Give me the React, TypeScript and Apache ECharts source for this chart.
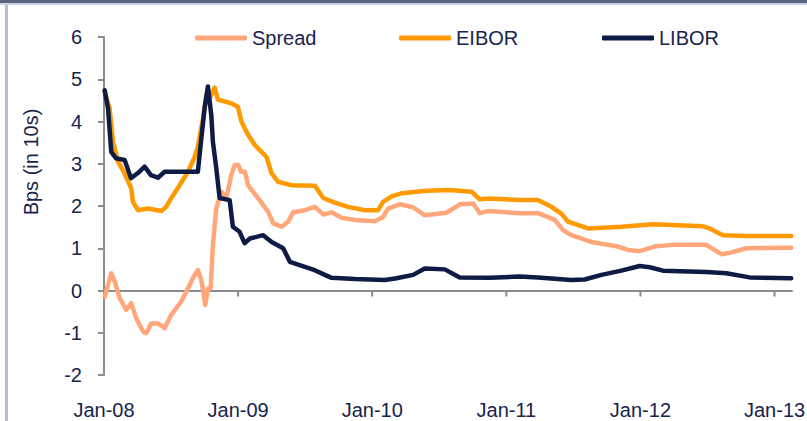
import React, { useEffect, useRef } from "react";
import * as echarts from "echarts";

// Time expressed in decimal years, values in Bps (in 10s)
const spreadTimes = [2008.005, 2008.03, 2008.054, 2008.08, 2008.117, 2008.166, 2008.203, 2008.241, 2008.291, 2008.315, 2008.352, 2008.402, 2008.452, 2008.501, 2008.576, 2008.626, 2008.676, 2008.7, 2008.725, 2008.745, 2008.755, 2008.775, 2008.795, 2008.812, 2008.837, 2008.874, 2008.911, 2008.949, 2008.974, 2009.001, 2009.023, 2009.051, 2009.075, 2009.15, 2009.224, 2009.262, 2009.324, 2009.373, 2009.411, 2009.498, 2009.572, 2009.635, 2009.697, 2009.771, 2009.87, 2010.019, 2010.081, 2010.118, 2010.206, 2010.305, 2010.392, 2010.554, 2010.653, 2010.752, 2010.802, 2010.864, 2011.1, 2011.236, 2011.361, 2011.423, 2011.485, 2011.634, 2011.832, 2011.907, 2011.994, 2012.118, 2012.242, 2012.491, 2012.603, 2012.665, 2012.789, 2013.124];
const spreadValues = [-0.15, 0.13, 0.41, 0.21, -0.18, -0.46, -0.3, -0.66, -0.97, -1.01, -0.78, -0.78, -0.89, -0.58, -0.26, 0.05, 0.37, 0.48, 0.25, -0.11, -0.34, 0.05, 0.05, 1.08, 1.94, 2.34, 2.18, 2.73, 2.97, 2.97, 2.81, 2.81, 2.49, 2.18, 1.86, 1.59, 1.51, 1.63, 1.85, 1.9, 1.98, 1.8, 1.85, 1.72, 1.67, 1.64, 1.74, 1.94, 2.04, 1.97, 1.78, 1.84, 2.04, 2.06, 1.83, 1.88, 1.83, 1.83, 1.67, 1.43, 1.31, 1.15, 1.04, 0.96, 0.93, 1.05, 1.08, 1.08, 0.86, 0.89, 1.0, 1.01];

const eiborTimes = [2008.005, 2008.042, 2008.067, 2008.104, 2008.154, 2008.203, 2008.216, 2008.253, 2008.328, 2008.427, 2008.464, 2008.501, 2008.564, 2008.626, 2008.676, 2008.7, 2008.738, 2008.762, 2008.788, 2008.825, 2008.849, 2008.949, 2008.998, 2009.026, 2009.075, 2009.125, 2009.212, 2009.25, 2009.299, 2009.399, 2009.572, 2009.635, 2009.721, 2009.82, 2009.945, 2010.044, 2010.081, 2010.144, 2010.218, 2010.405, 2010.578, 2010.74, 2010.802, 2010.876, 2011.1, 2011.236, 2011.336, 2011.41, 2011.46, 2011.609, 2011.858, 2012.093, 2012.466, 2012.516, 2012.615, 2012.789, 2013.124];
const eiborValues = [4.7, 4.31, 3.52, 3.05, 2.77, 2.42, 2.1, 1.9, 1.94, 1.88, 1.98, 2.18, 2.49, 2.81, 3.16, 3.4, 4.07, 4.62, 4.55, 4.8, 4.52, 4.43, 4.35, 3.99, 3.68, 3.44, 3.16, 2.77, 2.57, 2.49, 2.48, 2.19, 2.08, 1.98, 1.9, 1.9, 2.1, 2.23, 2.3, 2.36, 2.38, 2.34, 2.16, 2.18, 2.14, 2.14, 1.98, 1.82, 1.63, 1.47, 1.51, 1.57, 1.52, 1.47, 1.31, 1.29, 1.29];

const liborTimes = [2008.005, 2008.03, 2008.054, 2008.089, 2008.154, 2008.201, 2008.253, 2008.303, 2008.35, 2008.402, 2008.452, 2008.7, 2008.723, 2008.75, 2008.775, 2008.8, 2008.812, 2008.837, 2008.862, 2008.937, 2008.961, 2009.011, 2009.048, 2009.088, 2009.187, 2009.25, 2009.336, 2009.386, 2009.498, 2009.572, 2009.647, 2009.697, 2009.87, 2010.094, 2010.181, 2010.305, 2010.392, 2010.541, 2010.653, 2010.876, 2011.1, 2011.236, 2011.485, 2011.584, 2011.709, 2011.858, 2011.994, 2012.069, 2012.168, 2012.491, 2012.64, 2012.814, 2013.124];
const liborValues = [4.74, 4.31, 3.28, 3.13, 3.09, 2.66, 2.78, 2.93, 2.73, 2.67, 2.81, 2.81, 3.52, 4.31, 4.83, 4.15, 3.52, 2.9, 2.19, 2.14, 1.51, 1.39, 1.12, 1.23, 1.31, 1.15, 1.0, 0.68, 0.56, 0.48, 0.37, 0.3, 0.27, 0.25, 0.29, 0.37, 0.52, 0.5, 0.31, 0.3, 0.33, 0.31, 0.25, 0.26, 0.37, 0.47, 0.58, 0.55, 0.47, 0.44, 0.41, 0.31, 0.29];

const seriesNames = ["Spread", "EIBOR", "LIBOR"];
const seriesColors = ["#FFA77A", "#FF9900", "#0E1C45"];
const tickYears = [2008, 2009, 2010, 2011, 2012, 2013];
const yAxisTitle = "Bps (in 10s)";

const zip = (t: number[], v: number[]) => t.map((x, i) => [x, v[i]]);

export default function App() {
  const ref = useRef<HTMLDivElement>(null);
  useEffect(() => {
    document.body.style.margin = "0";
    const chart = echarts.init(ref.current!, null, { renderer: "svg" });
    const textColor = "#17244C";
    const font = "'Liberation Sans', Arial, sans-serif";
    const axisGray = "#8C8C8C";
    const datas = [zip(spreadTimes, spreadValues), zip(eiborTimes, eiborValues), zip(liborTimes, liborValues)];
    const legendLefts = [190, 394, 597];
    const lineSeries = seriesNames.map((n, i) => ({
      name: n,
      type: "line",
      data: datas[i],
      showSymbol: false,
      symbol: "none",
      z: 3,
      color: seriesColors[i],
      lineStyle: { width: 4.5, color: seriesColors[i], join: "round", cap: "round" },
    }));
    chart.setOption({
      animation: false,
      backgroundColor: "#ffffff",
      textStyle: { fontFamily: font },
      grid: { left: 104, right: 15, top: 37, height: 338, containLabel: false, outerBoundsMode: "none" },
      legend: seriesNames.map((n, i) => ({
        data: [n],
        left: legendLefts[i],
        top: 23,
        icon: "roundRect",
        itemWidth: 52,
        itemHeight: 5,
        textStyle: { color: textColor, fontSize: 20, fontFamily: font },
      })),
      xAxis: {
        type: "value",
        min: 2008,
        max: 2013.13,
        interval: 1,
        axisLine: { onZero: true, lineStyle: { color: axisGray, width: 2 } },
        axisTick: { show: false },
        splitLine: { show: false },
        axisLabel: {
          customValues: tickYears,
          margin: 25,
          color: textColor,
          fontSize: 20,
          fontFamily: font,
          formatter: (v: number) => "Jan-" + String(Math.round(v)).slice(2),
        },
      },
      yAxis: {
        type: "value",
        min: -2,
        max: 6,
        interval: 1,
        axisLine: { show: true, lineStyle: { color: axisGray, width: 2 } },
        axisTick: { show: true, length: 6, lineStyle: { color: axisGray, width: 2 } },
        splitLine: { show: false },
        axisLabel: { margin: 22, color: textColor, fontSize: 20, fontFamily: font },
      },
      graphic: [
        { type: "rect", shape: { x: 0, y: 0, width: 807, height: 3 }, style: { fill: "#5A6480" } },
        { type: "rect", shape: { x: 0, y: 3, width: 807, height: 2 }, style: { fill: "#C9D0E8" } },
        { type: "rect", shape: { x: 5, y: 5, width: 3, height: 416 }, style: { fill: "#B6BEE0" } },
        {
          type: "text",
          x: 31,
          y: 162,
          rotation: Math.PI / 2,
          style: {
            text: yAxisTitle,
            fill: textColor,
            fontSize: 20,
            fontFamily: font,
            align: "center",
            verticalAlign: "middle",
          },
        },
      ],
      series: [
        {
          type: "scatter",
          silent: true,
          z: 1,
          symbol: "rect",
          symbolSize: [2, 6],
          symbolOffset: [0, 3],
          itemStyle: { color: axisGray, opacity: 1 },
          data: tickYears.map((y) => [y, 0]),
        },
        ...lineSeries,
      ],
    });
    return () => chart.dispose();
  }, []);
  return <div ref={ref} style={{ position: "fixed", left: 0, top: 0, width: 807, height: 421 }} />;
}
